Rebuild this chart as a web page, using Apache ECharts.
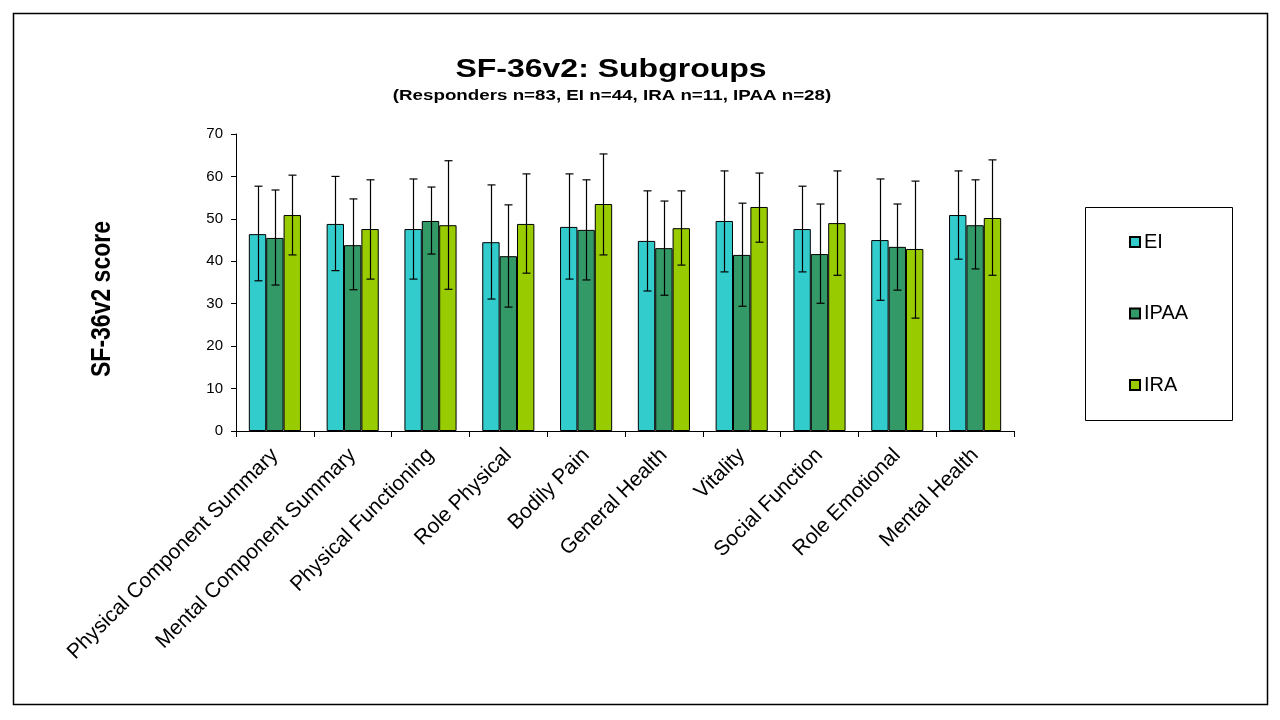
<!DOCTYPE html>
<html>
<head>
<meta charset="utf-8">
<script src="https://cdn.jsdelivr.net/npm/echarts@6/dist/echarts.min.js"></script>
<style>
html,body{margin:0;padding:0;background:#fff;}
#chart{width:1280px;height:720px;}
</style>
</head>
<body>
<div id="chart"></div>
<script>
const categories = ['Physical Component Summary','Mental Component Summary','Physical Functioning','Role Physical','Bodily Pain','General Health','Vitality','Social Function','Role Emotional','Mental Health'];
const seriesNames = ['EI','IPAA','IRA'];
const eiMean  = [46.4, 48.8, 47.6, 44.5, 48.1, 44.8, 49.5, 47.6, 45.0, 50.9];
const eiUpper = [57.7, 60.0, 59.4, 58.0, 60.6, 56.6, 61.3, 57.7, 59.4, 61.3];
const eiLower = [35.4, 37.8, 35.8, 31.1, 35.8, 33.0, 37.5, 37.5, 30.8, 40.5];
const ipaaMean  = [45.5, 43.8, 49.5, 41.2, 47.4, 43.1, 41.5, 41.7, 43.4, 48.5];
const ipaaUpper = [56.8, 54.7, 57.5, 53.3, 59.2, 54.2, 53.7, 53.5, 53.5, 59.2];
const ipaaLower = [34.4, 33.3, 41.7, 29.2, 35.6, 32.0, 29.4, 30.1, 33.2, 38.2];
const iraMean  = [50.9, 47.6, 48.5, 48.8, 53.5, 47.8, 52.8, 49.0, 42.9, 50.2];
const iraUpper = [60.3, 59.2, 63.7, 60.6, 65.3, 56.6, 60.8, 61.3, 58.9, 63.9];
const iraLower = [41.5, 35.8, 33.4, 37.2, 41.5, 39.1, 44.5, 36.7, 26.6, 36.7];
const yTicks = [0, 10, 20, 30, 40, 50, 60, 70];

const colors = ['#33CCCC', '#339966', '#99CC00'];
const FONT = 'Arial, "Liberation Sans", sans-serif';
const GAP = 0.33;

function barSeries(name, data, color) {
  return {
    name: name, type: 'bar', data: data,
    barGap: '0%', barCategoryGap: (GAP * 100) + '%',
    itemStyle: { color: color, borderColor: '#000', borderWidth: 1 },
    emphasis: { disabled: true }
  };
}
function errSeries(idx, lower, upper) {
  return {
    name: seriesNames[idx] + ' err', type: 'custom', z: 10,
    data: categories.map((c, i) => [i, lower[i], upper[i]]),
    encode: { x: 0, y: [1, 2] },
    renderItem: function (params, api) {
      const ci = api.value(0);
      const lo = api.coord([ci, api.value(1)]);
      const hi = api.coord([ci, api.value(2)]);
      const catW = api.size([1, 0])[0];
      const bw = catW * (1 - GAP) / 3;
      const x = Math.round(lo[0] + (idx - 1) * bw) + 0.5;
      const cap = 4;
      const st = { stroke: '#000', lineWidth: 1.2 };
      return {
        type: 'group',
        children: [
          { type: 'line', shape: { x1: x, y1: hi[1], x2: x, y2: lo[1] }, style: st },
          { type: 'line', shape: { x1: x - cap, y1: hi[1], x2: x + cap, y2: hi[1] }, style: st },
          { type: 'line', shape: { x1: x - cap, y1: lo[1], x2: x + cap, y2: lo[1] }, style: st }
        ]
      };
    }
  };
}

const chart = echarts.init(document.getElementById('chart'));
chart.setOption({
  backgroundColor: '#fff',
  animation: false,
  textStyle: { fontFamily: FONT },
  grid: { left: 236, right: 266, top: 134, bottom: 289, containLabel: false },
  legend: {
    data: seriesNames, orient: 'vertical', left: 1124, top: 227,
    itemGap: 51.5, itemWidth: 10, itemHeight: 10, icon: 'rect',
    textStyle: { fontSize: 20, color: '#000', fontFamily: FONT, padding: [0, 0, 0, -1] },
    selectedMode: false
  },
  xAxis: {
    type: 'category', data: categories,
    axisLine: { lineStyle: { color: '#000', width: 1 } },
    axisTick: { show: true, alignWithLabel: false, interval: 0, length: 6, lineStyle: { color: '#000' } },
    axisLabel: { interval: 0, rotate: 45, fontSize: 21, color: '#000', fontFamily: FONT, margin: 21 }
  },
  yAxis: {
    type: 'value', min: yTicks[0], max: yTicks[yTicks.length - 1], interval: 10,
    axisLine: { show: true, lineStyle: { color: '#000', width: 1 } },
    axisTick: { show: true, length: 5, lineStyle: { color: '#000' } },
    axisLabel: { fontSize: 15, color: '#000', fontFamily: FONT, margin: 13 },
    splitLine: { show: false }
  },
  series: [
    barSeries('EI', eiMean, colors[0]),
    barSeries('IPAA', ipaaMean, colors[1]),
    barSeries('IRA', iraMean, colors[2]),
    errSeries(0, eiLower, eiUpper),
    errSeries(1, ipaaLower, ipaaUpper),
    errSeries(2, iraLower, iraUpper)
  ],
  graphic: [
    { type: 'rect', shape: { x: 13.5, y: 13.5, width: 1254, height: 691 }, style: { fill: 'none', stroke: '#000', lineWidth: 1.5 }, silent: true },
    { type: 'rect', shape: { x: 1085.5, y: 207.5, width: 147, height: 213 }, style: { fill: 'none', stroke: '#000', lineWidth: 1 }, silent: true, z: -1 },
    { type: 'text', x: 611, y: 70, scaleX: 1.28, style: { text: 'SF-36v2: Subgroups', font: 'bold 25px ' + FONT, fill: '#000', textAlign: 'center', textVerticalAlign: 'middle' } },
    { type: 'text', x: 612, y: 96, scaleX: 1.25, style: { text: '(Responders n=83, EI n=44, IRA n=11, IPAA n=28)', font: 'bold 15px ' + FONT, fill: '#000', textAlign: 'center', textVerticalAlign: 'middle' } },
    { type: 'text', x: 102, y: 299, rotation: Math.PI / 2, scaleY: 1.2, style: { text: 'SF-36v2 score', font: 'bold 23px ' + FONT, fill: '#000', textAlign: 'center', textVerticalAlign: 'middle' } }
  ]
});
</script>
</body>
</html>
